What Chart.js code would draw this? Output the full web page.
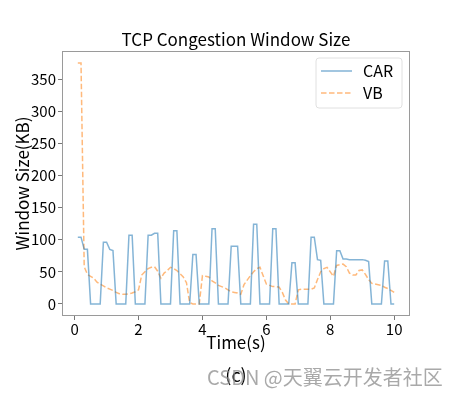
<!DOCTYPE html>
<html>
<head>
<meta charset="utf-8">
<script src="https://cdn.jsdelivr.net/npm/chart.js@4"></script>
<style>
  html, body { margin: 0; padding: 0; background: #fff; }
  #wrap { position: relative; width: 455px; height: 396px; }
  #cap { position: absolute; left: 0; width: 472px; top: 361px; text-align: center;
         font: 18px "Noto Sans CJK SC", sans-serif; color: #000; }
  #mark { position: absolute; left: 207px; top: 362px; font: 20px "Noto Sans CJK SC", sans-serif;
          color: rgba(140,140,140,0.75); white-space: nowrap; }
</style>
</head>
<body>
<div id="wrap">
  <canvas id="myChart" width="455" height="396"></canvas>
  <div id="cap">(c)</div>
  <div id="mark">CSDN @天翼云开发者社区</div>
</div>
<script>
const times = [0.1, 0.2, 0.3, 0.4, 0.5, 0.6, 0.7, 0.8, 0.9, 1.0,
    1.1, 1.2, 1.3, 1.4, 1.5, 1.6, 1.7, 1.8, 1.9, 2.0,
    2.1, 2.2, 2.3, 2.4, 2.5, 2.6, 2.7, 2.8, 2.9, 3.0,
    3.1, 3.2, 3.3, 3.4, 3.5, 3.6, 3.7, 3.8, 3.9, 4.0,
    4.1, 4.2, 4.3, 4.4, 4.5, 4.6, 4.7, 4.8, 4.9, 5.0,
    5.1, 5.2, 5.3, 5.4, 5.5, 5.6, 5.7, 5.8, 5.9, 6.0,
    6.1, 6.2, 6.3, 6.4, 6.5, 6.6, 6.7, 6.8, 6.9, 7.0,
    7.1, 7.2, 7.3, 7.4, 7.5, 7.6, 7.7, 7.8, 7.9, 8.0,
    8.1, 8.2, 8.3, 8.4, 8.5, 8.6, 8.7, 8.8, 8.9, 9.0,
    9.1, 9.2, 9.3, 9.4, 9.5, 9.6, 9.7, 9.8, 9.9, 10.0];

const carValues = [104, 104, 85, 85, 0, 0, 0, 0, 96, 96,
    85, 83, 0, 0, 0, 0, 107, 107, 0, 0,
    0, 0, 107, 107, 110, 110, 0, 0, 0, 0,
    114, 114, 0, 0, 0, 0, 77, 77, 0, 0,
    0, 0, 117, 117, 0, 0, 0, 0, 90, 90,
    90, 0, 0, 0, 0, 124, 124, 0, 0, 0,
    0, 117, 117, 0, 0, 0, 0, 64, 64, 0,
    0, 0, 0, 104, 104, 69, 68, 0, 0, 0,
    0, 83, 83, 70, 70, 69, 69, 69, 69, 69,
    68, 66, 0, 0, 0, 0, 67, 67, 0, 0];

const vbValues = [375, 375, 58, 46, 43, 40, 34, 31, 28, 25,
    23, 21, 18, 16, 15, 15, 16, 17, 19, 22,
    45, 50, 55, 57, 58, 51, 40, 48, 52, 57,
    55, 52, 47, 42, 33, 2, 0, 0, 0, 44,
    43, 42, 36, 33, 29, 27, 25, 22, 19, 18,
    17, 15, 30, 37, 44, 50, 55, 57, 44, 31,
    29, 27, 27, 26, 18, 6, 0, 0, 0, 22,
    23, 23, 23, 23, 25, 38, 50, 55, 57, 50,
    43, 60, 61, 62, 58, 48, 45, 45, 52, 53,
    46, 38, 32, 31, 30, 29, 26, 24, 21, 18];

const seriesNames = ['CAR', 'VB'];
const xTickStep = 2;
const yTickStep = 50;

const carColor = 'rgba(31,119,180,0.55)';
const vbColor = 'rgba(255,127,14,0.55)';
const fontName = '"Noto Sans CJK SC", "Noto Sans", sans-serif';

function points(vals) {
    return times.map((t, i) => ({ x: t, y: vals[i] }));
}

// frame, title and legend drawn around the plot area
const extras = {
    id: 'extras',
    afterDraw(chart) {
        const c = chart.ctx;
        const a = chart.chartArea;
        c.save();
        c.strokeStyle = '#9a9a9a';
        c.lineWidth = 1;
        c.strokeRect(a.left + 0.5, a.top + 0.5, a.right - a.left - 1, a.bottom - a.top - 1);

        c.fillStyle = '#000';
        c.font = '17px ' + fontName;
        c.textAlign = 'center';
        c.textBaseline = 'middle';
        c.fillText('TCP Congestion Window Size', (a.left + a.right) / 2, 40);

        // legend box
        const bx = 316, by = 58, bw = 86, bh = 50, r = 3;
        c.beginPath();
        c.moveTo(bx + r, by);
        c.arcTo(bx + bw, by, bx + bw, by + bh, r);
        c.arcTo(bx + bw, by + bh, bx, by + bh, r);
        c.arcTo(bx, by + bh, bx, by, r);
        c.arcTo(bx, by, bx + bw, by, r);
        c.closePath();
        c.fillStyle = 'rgba(255,255,255,0.8)';
        c.fill();
        c.strokeStyle = '#e0e0e0';
        c.stroke();

        const rows = [[carColor, []], [vbColor, [5.5, 2.5]]];
        rows.forEach((row, i) => {
            const y = 71 + i * 22;
            c.strokeStyle = row[0];
            c.lineWidth = 1.5;
            c.setLineDash(row[1]);
            c.beginPath();
            c.moveTo(321, y);
            c.lineTo(352, y);
            c.stroke();
            c.setLineDash([]);
            c.fillStyle = '#000';
            c.font = '16px ' + fontName;
            c.textAlign = 'left';
            c.fillText(seriesNames[i], 363, y);
        });
        c.restore();
    }
};

const chart = new Chart(document.getElementById('myChart'), {
    type: 'line',
    data: {
        datasets: [
            {
                label: seriesNames[0],
                data: points(carValues),
                borderColor: carColor,
                borderWidth: 1.5,
                pointRadius: 0,
                tension: 0
            },
            {
                label: seriesNames[1],
                data: points(vbValues),
                borderColor: vbColor,
                borderWidth: 1.5,
                borderDash: [5.5, 2.5],
                pointRadius: 0,
                tension: 0
            }
        ]
    },
    options: {
        responsive: false,
        animation: false,
        layout: { padding: { left: 12, right: 45, top: 51, bottom: 43 } },
        plugins: {
            legend: { display: false },
            title: { display: false },
            tooltip: { enabled: false }
        },
        scales: {
            x: {
                type: 'linear',
                min: -0.395,
                max: 10.495,
                afterFit: s => { s.height = 37; },
                border: { display: false },
                grid: { drawOnChartArea: false, drawTicks: true, tickLength: 4, color: '#777' },
                ticks: { stepSize: xTickStep, includeBounds: false, maxRotation: 0, padding: 0,
                         color: '#000', font: { family: fontName, size: 15 } },
                title: { display: true, text: 'Time(s)', color: '#000', padding: 0,
                         font: { family: fontName, size: 17 } }
            },
            y: {
                min: -18.75,
                max: 393.75,
                afterFit: s => { s.width = 50; },
                border: { display: false },
                grid: { drawOnChartArea: false, drawTicks: true, tickLength: 4, color: '#777' },
                ticks: { stepSize: yTickStep, includeBounds: false, padding: 2,
                         color: '#000', font: { family: fontName, size: 15 } },
                title: { display: true, text: 'Window Size(KB)', color: '#000', padding: 0,
                         font: { family: fontName, size: 17 } }
            }
        }
    },
    plugins: [extras]
});
</script>
</body>
</html>
